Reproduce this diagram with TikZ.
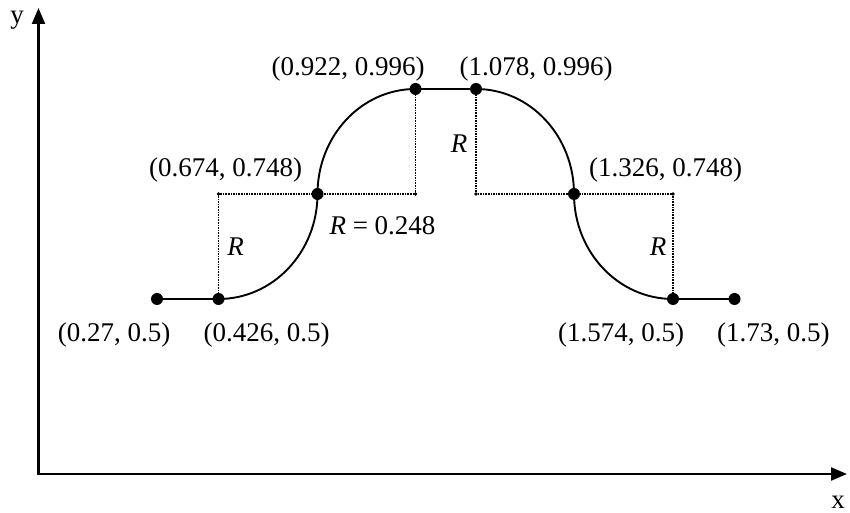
\documentclass[tikz,border=0pt]{standalone}
\usepackage{fontspec}
\setmainfont{Liberation Serif}
\usetikzlibrary{arrows.meta}
\begin{document}
\begin{tikzpicture}[x=1pt,y=1pt,
  lbl/.style={inner sep=0pt, font=\fontsize{27}{30}\selectfont},
  bigdot/.style={circle, fill=black, inner sep=0pt, minimum size=12pt},
  smalldot/.style={circle, fill=black, inner sep=0pt, minimum size=3.8pt},
  guide/.style={line width=1.1pt, dash pattern=on 1.6pt off 1pt},
  curveline/.style={line width=1.9pt},
  axisline/.style={line width=2.2pt, line join=miter, {Triangle[length=16pt,width=13pt]}-{Triangle[length=16pt,width=13pt]}}]
\useasboundingbox (0,0) rectangle (850,513);
% key points
\coordinate (pA) at (157,214);
\coordinate (pB) at (218.5,214);
\coordinate (pC) at (317.5,319);
\coordinate (pD) at (415.5,424);
\coordinate (pE) at (476,424);
\coordinate (pF) at (574,319);
\coordinate (pG) at (673,214);
\coordinate (pH) at (734.5,214);
\coordinate (pP) at (218.5,319);
\coordinate (pQ) at (415.5,319);
\coordinate (pS) at (476,319);
\coordinate (pT) at (673,319);
% axes
\coordinate (O) at (38.5,39);
\coordinate (Ytip) at (38.5,505);
\coordinate (Xtip) at (847,39);
\draw[axisline] (Ytip) -- (O) -- (Xtip);
\node[lbl] (ylab) at (17,493) {y};
\node[lbl] (xlab) at (838,11) {x};
% guides
\draw[guide] (pB) -- (pP) -- (pQ) -- (pD);
\draw[guide] (pE) -- (pS) -- (pT) -- (pG);
% curve
\draw[curveline] (pA) -- (pB)
  arc[start angle=-90,end angle=0,x radius=99,y radius=105]
  arc[start angle=180,end angle=90,x radius=98,y radius=105]
  -- (pE)
  arc[start angle=90,end angle=0,x radius=98,y radius=105]
  arc[start angle=180,end angle=270,x radius=99,y radius=105]
  -- (pH);
% dots
\foreach \p in {pA,pB,pC,pD,pE,pF,pG,pH} \node[bigdot] (d\p) at (\p) {};
\foreach \p in {pP,pQ,pS,pT} \node[smalldot] (d\p) at (\p) {};
% labels
\node[lbl, anchor=base] (lA) at (114,171.3) {(0.27, 0.5)};
\node[lbl, anchor=base] (lB) at (266.5,171.3) {(0.426, 0.5)};
\node[lbl, anchor=base] (lG) at (621,171.3) {(1.574, 0.5)};
\node[lbl, anchor=base] (lH) at (773.3,171.3) {(1.73, 0.5)};
\node[lbl, anchor=base] (lC) at (225.7,336) {(0.674, 0.748)};
\node[lbl, anchor=base] (lF) at (665.5,336) {(1.326, 0.748)};
\node[lbl, anchor=base] (lD) at (348,437) {(0.922, 0.996)};
\node[lbl, anchor=base] (lE) at (536,437) {(1.078, 0.996)};
\node[lbl, anchor=base] (lR0) at (382.5,278) {\textit{R} = 0.248};
\node[lbl, anchor=base] (lR1) at (235.7,257) {\textit{R}};
\node[lbl, anchor=base] (lR2) at (658,257) {\textit{R}};
\node[lbl, anchor=base] (lR3) at (459,360) {\textit{R}};
\end{tikzpicture}
\end{document}
